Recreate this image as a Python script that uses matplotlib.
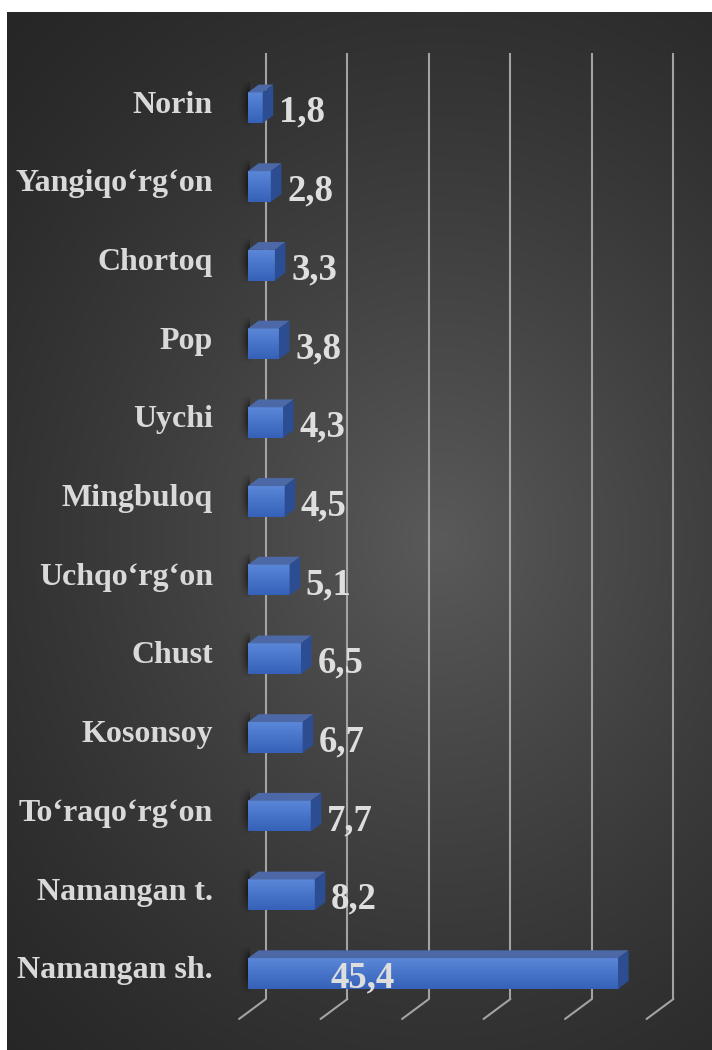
import numpy as np
import matplotlib
matplotlib.use("Agg")
from matplotlib import pyplot as plt
from matplotlib.patches import Polygon
from matplotlib.colors import LinearSegmentedColormap

# data, bottom to top
regions = ["Namangan sh.", "Namangan t.", "To‘raqo‘rg‘on", "Kosonsoy", "Chust",
           "Uchqo‘rg‘on", "Mingbuloq", "Uychi", "Pop", "Chortoq",
           "Yangiqo‘rg‘on", "Norin"]
values = [45.4, 8.2, 7.7, 6.7, 6.5, 5.1, 4.5, 4.3, 3.8, 3.3, 2.8, 1.8]
grid_ticks = [0, 10, 20, 30, 40, 50]

W, H = 712, 1050
fig = plt.figure(figsize=(W / 100, H / 100), dpi=100)
fig.patch.set_facecolor("white")

# dark radial background panel
panel = [7 / W, 0, (W - 7) / W, (H - 12) / H]
bg = fig.add_axes(panel, zorder=0)
yy, xx = np.mgrid[12:H, 7:W]
r = np.sqrt(((xx - 440) / 1.0) ** 2 + ((yy - 540) / 1.15) ** 2)
t = np.clip(1 - r / 640, 0, 1) ** 1.3
shade = (0x26 + (0x5a - 0x26) * t) / 255
bg.imshow(np.dstack([shade, shade, shade]), aspect="auto", interpolation="bilinear")
bg.axis("off")

ax = fig.add_axes(panel, zorder=1)
ax.patch.set_alpha(0)
ax.axis("off")

# pixel mapping: x px = 248 + 8.15*v ; y px = 973.5 - 78.7*i
xlim = ((7 - 248) / 8.15, (W - 248) / 8.15)
ylim = ((973.5 - H) / 78.7, (973.5 - 12) / 78.7)

h = 0.39            # bar thickness in category units
dx, dy = 1.3, 0.10  # bar depth
back_x, front_x = 2.2, -1.1
floor_back, floor_front, wall_top = -0.324, -0.578, 11.70

grid_col = "#a3a3a3"
for g in grid_ticks:
    ax.plot([g + back_x, g + back_x], [floor_back, wall_top], color=grid_col,
            lw=1.5, zorder=1, solid_capstyle="butt")
    ax.plot([g + back_x, g + front_x], [floor_back, floor_front], color=grid_col,
            lw=1.5, zorder=1, solid_capstyle="round")

blue = LinearSegmentedColormap.from_list("b", ["#3561b8", "#5a87d8"])
grad = np.linspace(0, 1, 64).reshape(-1, 1)

# soft shadow sprite: fades to the left and toward top/bottom
sx = np.linspace(0, 1, 40) ** 2
sy = np.sin(np.linspace(0, np.pi, 40))
shadow = np.zeros((40, 40, 4))
shadow[..., 3] = 0.75 * np.outer(sy, sx)

for i, (name, v) in enumerate(zip(regions, values)):
    lo, hi = i - h / 2, i + h / 2
    ax.imshow(shadow, extent=[-1.3, 0.2, lo - 0.05, hi + dy + 0.05], origin="lower",
              aspect="auto", zorder=2, interpolation="bilinear")
    ax.imshow(grad, extent=[0, v, lo, hi], origin="lower", cmap=blue,
              aspect="auto", zorder=3)
    ax.add_patch(Polygon([(0, hi), (v, hi), (v + dx, hi + dy), (dx, hi + dy)],
                         closed=True, facecolor="#4c68a6", edgecolor="none", zorder=3))
    ax.add_patch(Polygon([(v, lo), (v + dx, lo + dy), (v + dx, hi + dy), (v, hi)],
                         closed=True, facecolor="#2d4d92", edgecolor="none", zorder=3))

    ax.text(-4.3, i - 0.06, name, ha="right", va="baseline", fontsize=23,
            fontweight="bold", family="Liberation Serif", color="#d9d9d9", zorder=4)
    vx = 10.1 if v > 40 else v + 2.0
    ax.text(vx, i - 0.18, f"{v:.1f}".replace(".", ","), ha="left", va="baseline",
            fontsize=26.5, fontweight="bold", family="Liberation Serif",
            color="#dedede", zorder=4)

ax.set_xlim(*xlim)
ax.set_ylim(*ylim)

fig.savefig("out.png", dpi=100)
